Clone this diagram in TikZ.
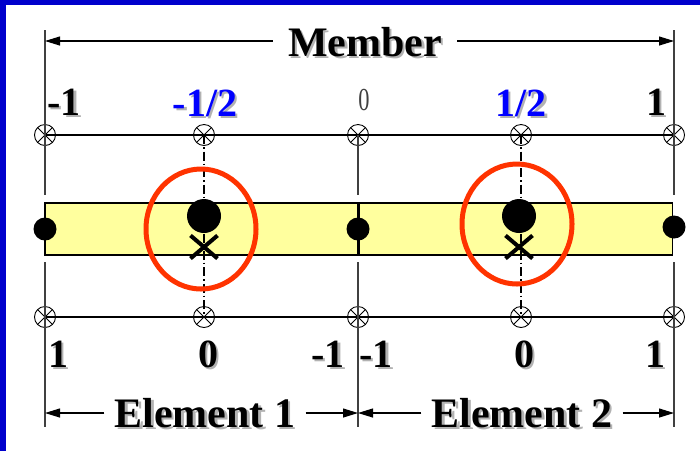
\documentclass[tikz,border=0pt]{standalone}
\usepackage{fontspec}
\setmainfont{Liberation Serif}
\usetikzlibrary{arrows.meta,positioning,shapes.geometric,shapes.misc}
\definecolor{slideblue}{RGB}{0,0,204}
\definecolor{ringred}{RGB}{255,51,0}
\definecolor{baryellow}{RGB}{255,255,158}
\definecolor{ptblue}{RGB}{0,0,255}
\newcommand{\shadowtxt}[1]{\makebox[0pt][l]{\hspace{2.5pt}\raisebox{-2.5pt}{\textcolor{black!30}{#1}}}#1}

\begin{document}
\begin{tikzpicture}[x=1pt, y=-1pt,
    lbl/.style={font=\fontsize{42}{42}\bfseries\selectfont, inner sep=0pt, anchor=base},
    num/.style={font=\fontsize{40}{40}\bfseries\selectfont, inner sep=0pt, anchor=base},
    element/.style={rectangle, draw=black, line width=1.6pt, fill=baryellow,
        minimum width=313pt, minimum height=52pt, inner sep=0pt},
    gauss/.style={circle, draw=black, line width=0.9pt, minimum size=21pt, inner sep=0pt,
        path picture={\draw[line width=0.9pt] (path picture bounding box.south west) -- (path picture bounding box.north east)
            (path picture bounding box.north west) -- (path picture bounding box.south east);}},
    node/.style={circle, fill=black, minimum size=23pt, inner sep=0pt},
    bignode/.style={circle, fill=black, minimum size=34pt, inner sep=0pt},
    xmark/.style={cross out, draw=black, line width=4pt, minimum width=23pt, minimum height=19pt, inner sep=0pt},
    ring/.style={ellipse, draw=ringred, line width=5pt, minimum width=110pt, minimum height=120pt, inner sep=0pt},
    axis/.style={line width=1.1pt, black},
    guide/.style={line width=1.2pt, black!75},
    centre/.style={line width=1.1pt, black, dash pattern=on 9pt off 3pt on 1.5pt off 3pt},
    dim/.style={-{Triangle[length=15pt, width=9pt]}, line width=1.1pt, black}
]
    % frame of the slide
    \fill[slideblue] (0,0) rectangle (700,4.5);
    \fill[slideblue] (0,0) rectangle (5.5,451);
    \useasboundingbox (0,0) rectangle (700,451);

    % Member bar, split in two elements
    \node[element] (el1) at (201.5,229) {};
    \node[element] (el2) at (516,229) {};

    % ends of the dimension lines
    \coordinate (mL) at (45,41);
    \coordinate (mR) at (674,41);
    \coordinate (eA) at (45,413);
    \coordinate (eB) at (358,413);
    \coordinate (eC) at (674,413);

    % Gauss points on the two axes
    \foreach \n/\x in {a/45, b/204, c/358, d/521, e/674} {
        \node[gauss] (t\n) at (\x,135) {};
        \node[gauss] (b\n) at (\x,317) {};
    }
    \draw[axis] (ta.center) -- (te.center);
    \draw[axis] (ba.center) -- (be.center);

    % Vertical guides
    \draw[guide] (45,30) -- (45,195);
    \draw[guide] (674,30) -- (674,195);
    \draw[guide] (tc.center) -- (358,195);
    \draw[guide] (45,262) -- (45,427);
    \draw[guide] (358,262) -- (358,427);
    \draw[guide] (674,262) -- (674,427);

    % Nodes of the elements
    \node[node] (n1) at (45,229) {};
    \node[node] (n2) at (358,229) {};
    \node[node] (n3) at (674,227) {};

    % Integration points
    \draw[centre] (tb.center) -- (bb.center);
    \draw[centre] (td.center) -- (bd.center);
    \node[bignode] (p1) at (204,216) {};
    \node[bignode] (p2) at (519,216) {};
    \node[xmark] (x1) at (204,247) {};
    \node[xmark] (x2) at (519,247) {};
    \node[ring] (r1) at (201,229) {};
    \node[ring] (r2) at (517,224) {};

    % Member coordinates
    \node[num] (m1) at (64,115) {\shadowtxt{-1}};
    \node[num, text=ptblue] (m2) at (205,116) {\shadowtxt{-1/2}};
    \node[inner sep=0pt, anchor=base, text=black!75,
        font=\fontsize{32}{32}\selectfont] (m3) at (364,110) {\scalebox{0.7}[1]{0}};
    \node[num, text=ptblue] (m4) at (521,116) {\shadowtxt{1/2}};
    \node[num] (m5) at (656,115) {\shadowtxt{1}};

    % Element coordinates
    \node[num] (s1) at (58,367) {\shadowtxt{1}};
    \node[num] (s2) at (208,367) {\shadowtxt{0}};
    \node[num] (s3) at (328,367) {\shadowtxt{-1}};
    \node[num] (s4) at (376,367) {\shadowtxt{-1}};
    \node[num] (s5) at (524,367) {\shadowtxt{0}};
    \node[num] (s6) at (655,367) {\shadowtxt{1}};

    % Dimension labels
    \node[lbl] (member) at (365,56) {\shadowtxt{Member}};
    \draw[dim] (mL -| member.west) ++(-15,0) -- (mL);
    \draw[dim] (mR -| member.east) ++(15,0) -- (mR);

    \node[lbl] (elem1) at (205,427) {\shadowtxt{Element 1}};
    \node[lbl] (elem2) at (522,427) {\shadowtxt{Element 2}};
    \draw[dim] (eA -| elem1.west) ++(-10,0) -- (eA);
    \draw[dim] (eA -| elem1.east) ++(10,0) -- (eB);
    \draw[dim] (eB -| elem2.west) ++(-10,0) -- (eB);
    \draw[dim] (eB -| elem2.east) ++(10,0) -- (eC);
\end{tikzpicture}
\end{document}
